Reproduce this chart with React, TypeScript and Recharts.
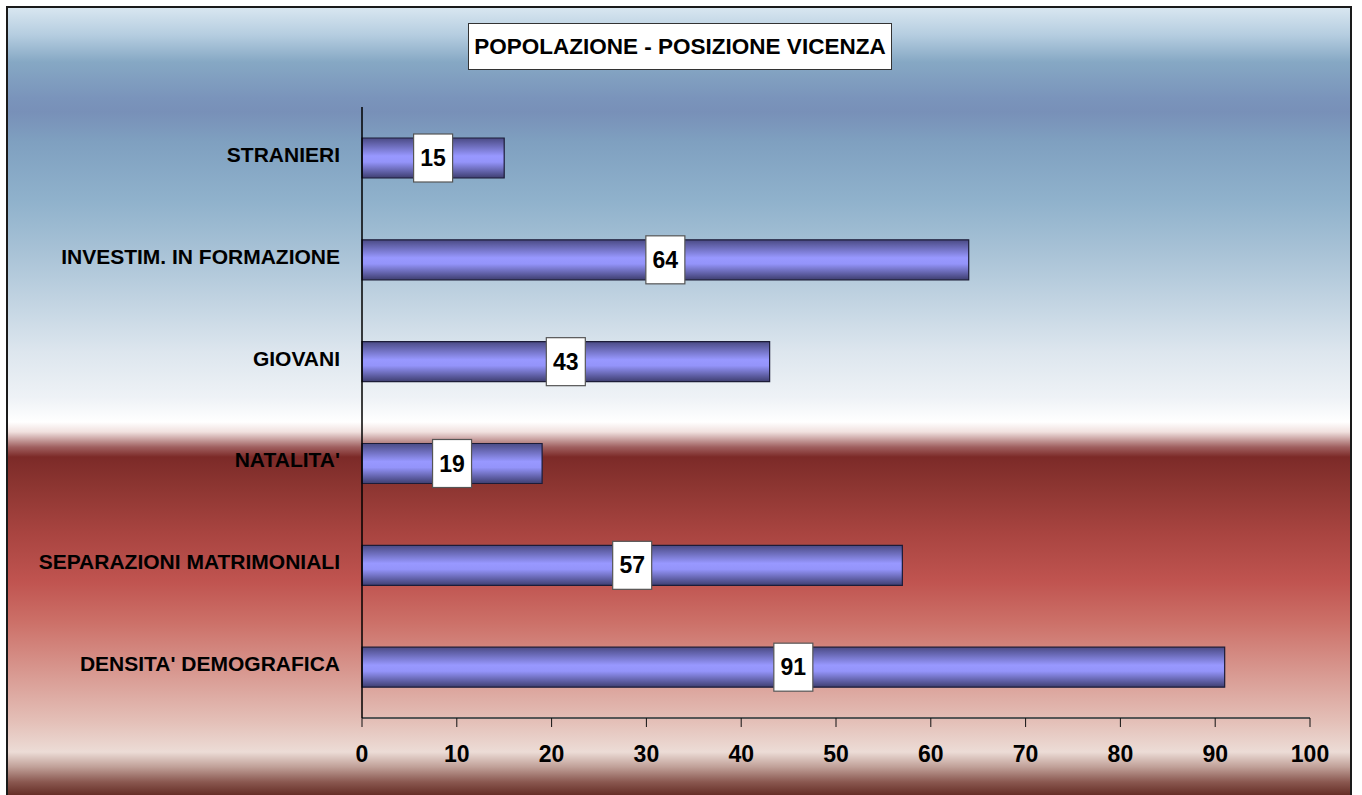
import { BarChart, Bar, XAxis, YAxis, LabelList } from 'recharts';

const categories = [
  'STRANIERI',
  'INVESTIM. IN FORMAZIONE',
  'GIOVANI',
  "NATALITA'",
  'SEPARAZIONI MATRIMONIALI',
  "DENSITA' DEMOGRAFICA",
];
const positions = [15, 64, 43, 19, 57, 91];
const xTicks = [0, 10, 20, 30, 40, 50, 60, 70, 80, 90, 100];

const data = categories.map((name, i) => ({ name, value: positions[i] }));

const FONT = '"Liberation Sans", Arial, sans-serif';

const bg =
  'linear-gradient(to bottom, #d8e6f0 0px, #b5cde0 27px, #86a8c4 54px, #7a94bb 90px, #7890b8 104px, #7fa0c0 134px, #90b2cc 194px, #a8c2d6 244px, #c2d4e2 294px, #dde6ee 344px, #eef2f6 389px, #ffffff 414px, #f0e0de 424px, #a06060 439px, #7c2a28 449px, #8a3430 474px, #a84440 524px, #c05450 574px, #cc7068 614px, #d89890 664px, #e4c0b8 714px, #ecdcd6 744px, #c0a098 759px, #8a5850 774px, #602820 789px)';

const CategoryTick = (props: any) => {
  const { y, payload } = props;
  return (
    <text x={340} y={y + 4} textAnchor="end" fontFamily={FONT} fontWeight="bold" fontSize={21} fill="#000">
      {payload.value}
    </text>
  );
};

const NumberTick = (props: any) => {
  const { x, y, payload } = props;
  return (
    <text x={x} y={y + 33} textAnchor="middle" fontFamily={FONT} fontWeight="bold" fontSize={23} fill="#000">
      {payload.value}
    </text>
  );
};

const ValueLabel = (props: any) => {
  const { x, y, width, height, value } = props;
  const cx = x + width / 2;
  const cy = y + height / 2;
  return (
    <g>
      <rect x={cx - 19.5} y={cy - 24} width={39} height={48} fill="#fff" stroke="#555" strokeWidth={1.2} />
      <text x={cx} y={cy + 8} textAnchor="middle" fontFamily={FONT} fontWeight="bold" fontSize={23} fill="#000">
        {value}
      </text>
    </g>
  );
};

export default function App() {
  return (
    <div style={{ position: 'fixed', left: 0, top: 0, width: 1362, height: 795, background: '#fff', overflow: 'hidden' }}>
      <div
        style={{
          position: 'absolute',
          left: 6,
          top: 6,
          width: 1346,
          height: 800,
          boxSizing: 'border-box',
          borderLeft: '2px solid #1a1a1a',
          borderTop: '2px solid #1a1a1a',
          borderRight: '2px solid #1a1a1a',
          background: bg,
        }}
      />
      <div
        style={{
          position: 'absolute',
          left: 468,
          top: 23,
          width: 424,
          height: 47,
          boxSizing: 'border-box',
          border: '1px solid #333',
          background: '#fff',
          fontFamily: FONT,
          fontWeight: 'bold',
          fontSize: 22.5,
          display: 'flex',
          alignItems: 'center',
          justifyContent: 'center',
          color: '#000',
        }}
      >
        POPOLAZIONE - POSIZIONE VICENZA
      </div>
      <div style={{ position: 'absolute', left: 0, top: 0 }}>
        <BarChart
          width={1362}
          height={795}
          data={data}
          layout="vertical"
          margin={{ top: 107, right: 52, left: 22, bottom: 27 }}
        >
          <defs>
            <linearGradient id="barGrad" x1="0" y1="0" x2="0" y2="1">
              <stop offset="0%" stopColor="#4a4a84" />
              <stop offset="45%" stopColor="#9898ff" />
              <stop offset="60%" stopColor="#9494fa" />
              <stop offset="100%" stopColor="#3e3e70" />
            </linearGradient>
          </defs>
          <XAxis
            type="number"
            domain={[0, 100]}
            ticks={xTicks}
            interval={0}
            height={50}
            stroke="#444"
            tickSize={9}
            tickLine={{ stroke: '#111' }}
            axisLine={{ stroke: '#555', strokeWidth: 2 }}
            tick={<NumberTick />}
          />
          <YAxis
            type="category"
            dataKey="name"
            width={340}
            tickLine={false}
            axisLine={{ stroke: '#000', strokeWidth: 1.5 }}
            tick={<CategoryTick />}
            interval={0}
          />
          <Bar dataKey="value" barSize={40} fill="url(#barGrad)" stroke="#1c1c38" strokeWidth={1.2} isAnimationActive={false}>
            <LabelList dataKey="value" content={<ValueLabel />} />
          </Bar>
        </BarChart>
      </div>
    </div>
  );
}
